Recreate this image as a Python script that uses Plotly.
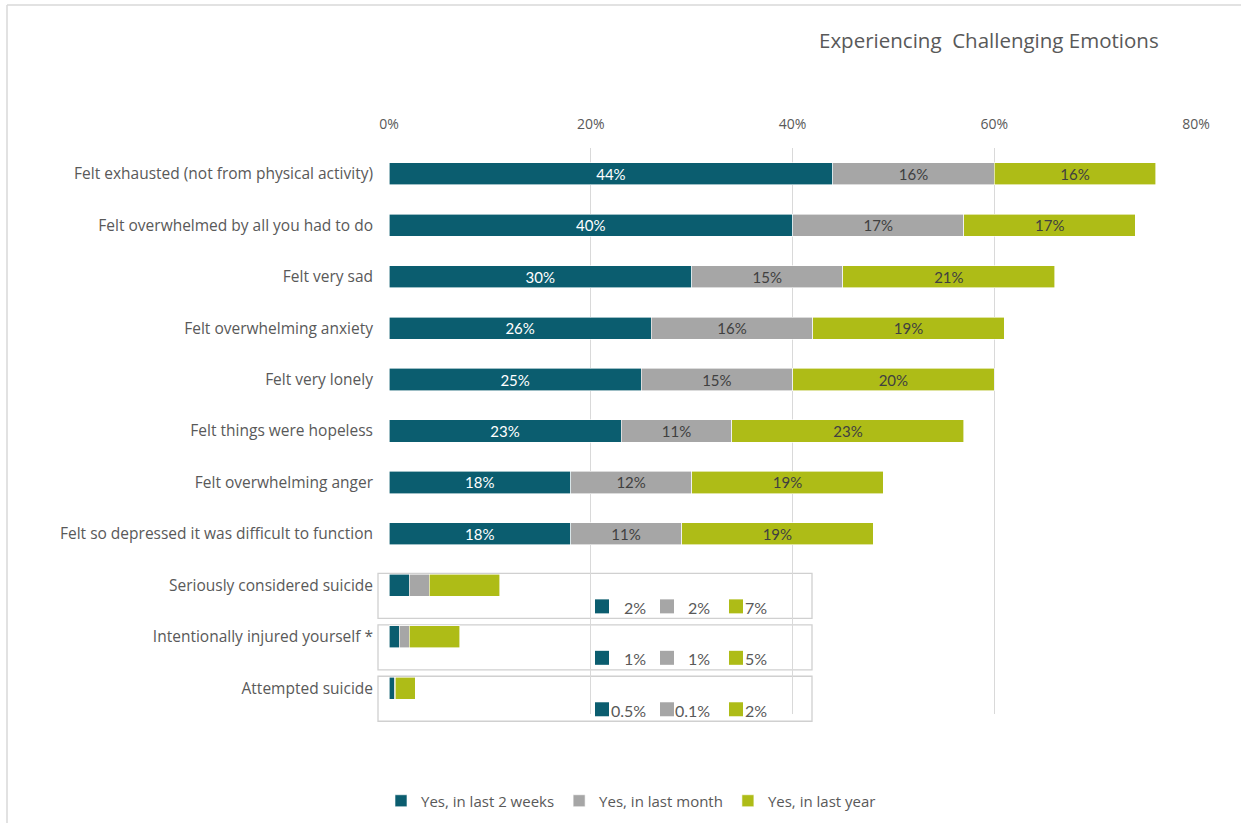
import plotly.graph_objects as go

# Survey items, top to bottom
items = [
    "Felt exhausted (not from physical activity)",
    "Felt overwhelmed by all you had to do",
    "Felt very sad",
    "Felt overwhelming anxiety",
    "Felt very lonely",
    "Felt things were hopeless",
    "Felt overwhelming anger",
    "Felt so depressed it was difficult to function",
    "Seriously considered suicide",
    "Intentionally injured yourself *",
    "Attempted suicide",
]

# Percent of respondents for each recall window
last_2_weeks = [44, 40, 30, 26, 25, 23, 18, 18, 2, 1, 0.5]
last_month = [16, 17, 15, 16, 15, 11, 12, 11, 2, 1, 0.1]
last_year = [16, 17, 21, 19, 20, 23, 19, 19, 7, 5, 2]

series_names = ["Yes, in last 2 weeks", "Yes, in last month", "Yes, in last year"]
colors = ["#0b5d6f", "#a6a6a6", "#aebc17"]
label_colors = ["#ffffff", "#404040", "#404040"]

x_ticks = [0, 20, 40, 60, 80]

# The last three (rare) items get their values in a boxed key instead of on the bar
n_main = 8

FONT = "Open Sans"
NUM_FONT = "Lato"
GREY_TEXT = "#595959"

# Plot-area geometry in pixels (used for placing decorations)
W, H = 1241, 823
PL, PR, PT, PB = 389, 1196, 148, 714


def px_to_paper_x(px):
    return (px - PL) / (PR - PL)


def px_to_paper_y(py):
    return (PB - py) / (PB - PT)


fig = go.Figure()
for vals, name, col, lcol in zip([last_2_weeks, last_month, last_year],
                                 series_names, colors, label_colors):
    text = [f"{v:g}%" if i < n_main else "" for i, v in enumerate(vals)]
    fig.add_trace(go.Bar(
        y=items, x=vals, name=name, orientation="h",
        marker=dict(color=col, line=dict(color="#ffffff", width=0.6)),
        text=text, textposition="inside", insidetextanchor="middle",
        textangle=0, constraintext="none",
        textfont=dict(family=NUM_FONT, size=15, color=lcol),
        width=0.43, hoverinfo="x+y+name",
    ))

shapes = []
annotations = []

# Outer chart frame (top and left edges)
shapes.append(dict(type="line", xref="paper", yref="paper",
                   x0=px_to_paper_x(7), x1=px_to_paper_x(W + 5),
                   y0=px_to_paper_y(5), y1=px_to_paper_y(5),
                   line=dict(color="#d9d9d9", width=1.5)))
shapes.append(dict(type="line", xref="paper", yref="paper",
                   x0=px_to_paper_x(7), x1=px_to_paper_x(7),
                   y0=px_to_paper_y(5), y1=px_to_paper_y(H + 5),
                   line=dict(color="#d9d9d9", width=1.5)))

# Boxed value keys for the rare items
row_h = (PB - PT) / len(items)
key_text_right = [648, 712, 769]
key_square_left = [595, 660, 729]
for i in range(n_main, len(items)):
    cy = PT + (i + 0.5) * row_h
    shapes.append(dict(type="rect", xref="paper", yref="paper",
                       x0=px_to_paper_x(378), x1=px_to_paper_x(812),
                       y0=px_to_paper_y(cy - 12), y1=px_to_paper_y(cy + 33),
                       line=dict(color="#d0d0d0", width=1.3),
                       fillcolor="rgba(0,0,0,0)", layer="below"))
    vals = [last_2_weeks[i], last_month[i], last_year[i]]
    ky = cy + 21
    for v, col, sq, tr in zip(vals, colors, key_square_left, key_text_right):
        shapes.append(dict(type="rect", xref="paper", yref="paper",
                           x0=px_to_paper_x(sq), x1=px_to_paper_x(sq + 14),
                           y0=px_to_paper_y(ky - 7), y1=px_to_paper_y(ky + 7),
                           line=dict(width=0), fillcolor=col))
        annotations.append(dict(xref="paper", yref="paper",
                                x=px_to_paper_x(tr), y=px_to_paper_y(ky + 1),
                                xanchor="right", yanchor="middle",
                                text=f"{v:g}%", showarrow=False,
                                font=dict(family=NUM_FONT, size=16, color=GREY_TEXT)))

# Chart title
annotations.append(dict(xref="paper", yref="paper",
                        x=px_to_paper_x(1161), y=px_to_paper_y(40),
                        xanchor="right", yanchor="middle",
                        text="Experiencing  Challenging Emotions", showarrow=False,
                        font=dict(family=FONT, size=20.5, color=GREY_TEXT)))

fig.update_layout(
    width=W, height=H,
    barmode="stack",
    bargap=0.57,
    plot_bgcolor="#ffffff", paper_bgcolor="#ffffff",
    margin=dict(l=PL, r=W - PR, t=PT, b=H - PB, autoexpand=False),
    font=dict(family=FONT, size=14, color=GREY_TEXT),
    shapes=shapes, annotations=annotations,
    legend=dict(orientation="h", x=px_to_paper_x(631), xanchor="center",
                y=px_to_paper_y(801), yanchor="middle",
                font=dict(family=FONT, size=15, color=GREY_TEXT),
                traceorder="normal", itemwidth=30),
    xaxis=dict(side="top", range=[0, 80], tickvals=x_ticks,
               ticktext=[f"{t}%" for t in x_ticks],
               showgrid=True, gridcolor="#d9d9d9", gridwidth=1,
               zeroline=False, showline=False, ticks="",
               ticklabelstandoff=15,
               tickfont=dict(family=FONT, size=14, color=GREY_TEXT)),
    yaxis=dict(autorange="reversed", showgrid=False, zeroline=False,
               showline=False, ticks="", ticklabelstandoff=15,
               tickfont=dict(family=FONT, size=15.5, color=GREY_TEXT)),
)

fig.write_html("out.html")
